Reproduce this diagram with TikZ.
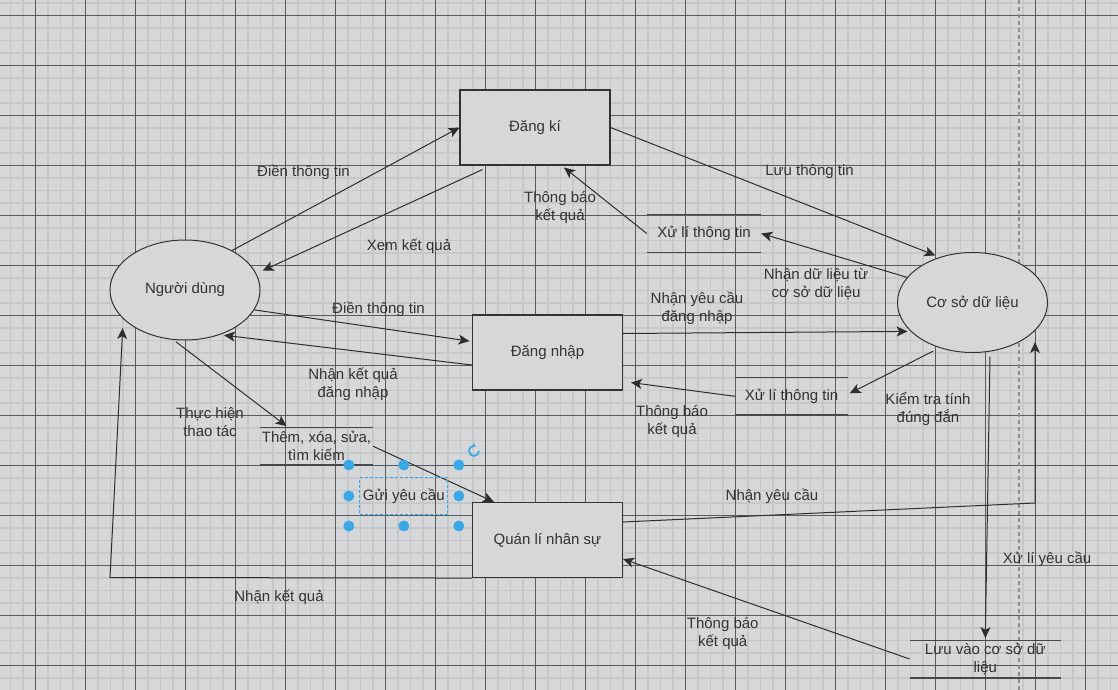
\documentclass[tikz,border=0pt]{standalone}
\usepackage{fontspec}
\setmainfont{Liberation Sans}
\usetikzlibrary{arrows.meta,shapes.geometric}
\definecolor{paper}{HTML}{D6D7D9}
\definecolor{gridminor}{HTML}{C6C7C9}
\definecolor{gridmajor}{HTML}{5A5B5D}
\definecolor{ink}{HTML}{333333}
\definecolor{edge}{HTML}{2E2E2E}
\definecolor{sel}{HTML}{3AA8E6}
\definecolor{guide}{HTML}{8C8C8C}

\begin{document}
\begin{tikzpicture}[x=1pt,y=-1pt,
  font=\fontsize{15}{18}\selectfont, text=ink,
  proc/.style={draw=ink, fill=paper, line width=1.1pt,
    minimum width=150pt, minimum height=75pt, inner sep=0pt},
  ent/.style={ellipse, draw=ink, fill=paper, line width=1pt,
    minimum width=150pt, minimum height=100pt, inner sep=0pt},
  store/.style={minimum height=37pt, inner sep=0pt, align=center},
  storeline/.style={draw=ink!90, line width=1.1pt},
  lbl/.style={align=center, inner sep=0pt},
  flow/.style={draw=edge, line width=1pt,
    -{Stealth[length=11pt,width=10pt,inset=2.8pt]}},
  pick/.style={draw=sel, line width=1pt, dash pattern=on 3pt off 2pt,
    minimum width=88pt, minimum height=37pt, inner sep=0pt}
]
% page and grid
\fill[paper] (0,0) rectangle (1118,690);
\useasboundingbox (0,0) rectangle (1118,690);
\foreach \i in {0,...,88}
  \draw[gridminor, line width=1.5pt] ({10.5+12.5*\i},0) -- ++(0,690);
\foreach \i in {0,...,54}
  \draw[gridminor, line width=1.5pt] (0,{3+12.5*\i}) -- ++(1118,0);
\foreach \i in {0,...,21}
  \draw[gridmajor, line width=0.9pt] ({35.5+50*\i},0) -- ++(0,690);
\foreach \i in {0,...,13}
  \draw[gridmajor, line width=0.9pt] (0,{15.5+50*\i}) -- ++(1118,0);
\draw[guide, line width=1.2pt, dash pattern=on 4pt off 3pt] (1019,0) -- (1019,690);

% entities and processes
\node[ent]  (user) at (185,290)     {Người dùng};
\node[ent]  (db)   at (972.5,302.5) {Cơ sở dữ liệu};
\node[proc] (dk)   at (535,127.5)   {Đăng kí};
\node[proc] (dn)   at (547.5,352.5) {Đăng nhập};
\node[proc] (qlns) at (547.5,540)   {Quán lí nhân sự};

% data stores
\node[store, minimum width=114pt] (xl1)  at (704,233.5)   {Xử lí thông tin};
\node[store, minimum width=113pt] (xl2)  at (791.5,396.3) {Xử lí thông tin};
\node[store, minimum width=113pt] (them) at (316.5,446.3) {Thêm, xóa, sửa,\\tìm kiếm};
\node[store, minimum width=151pt, minimum height=37.5pt] (luu) at (985.3,659) {Lưu vào cơ sở dữ\\liệu};
\foreach \s in {xl1,xl2,them,luu}
  \draw[storeline] (\s.north west) -- (\s.north east) (\s.south west) -- (\s.south east);

% flows
\draw[flow] (user.40) -- (dk.west);
\draw[flow, shorten >=7pt] ([xshift=23pt,yshift=-4pt]dk.south west) -- (user.13);
\draw[flow, shorten >=4.5pt] (dk.east) -- (db.126);
\draw[flow] (db.159) -- (xl1.east);
\draw[flow] (xl1.west) -- ([xshift=29pt,yshift=-2pt]dk.south);
\draw[flow, shorten >=2.5pt] (user.-16) -- ([yshift=11pt]dn.west);
\draw[flow, shorten >=4pt] ([yshift=-12.5pt]dn.west) -- (user.-52);
\draw[flow, shorten >=3pt] ([yshift=19pt]dn.east) -- (db.205);
\draw[flow, shorten <=7pt] (db.234) -- ([xshift=1.5pt,yshift=3pt]xl2.east);
\draw[flow, shorten >=8pt] (xl2.west) -- ([yshift=-29pt]dn.east);
\draw[flow, shorten <=3pt] (user.257) -- ([xshift=-30pt,yshift=1.5pt]them.north);
\draw[flow] (them.east) -- ([xshift=22pt]qlns.north west);
\coordinate (bendA) at (1035,503);
\draw[flow] ([yshift=18pt]qlns.east) -- (bendA) -- ([yshift=11pt]bendA |- db.south);
\draw[flow] ([xshift=17.5pt,yshift=-3.5pt]db.south) -- ([yshift=2pt]luu.north);
\draw[flow] (luu.west) -- ([yshift=-19pt]qlns.east);
\coordinate (bendB) at (110,577.5);
\draw[flow] (qlns.south west) -- (bendB) -- ([xshift=-62.3pt,yshift=-38pt]user.center);

% flow labels
\node[lbl] (l1)  at (303.5,172)  {Điền thông tin};
\node[lbl] (l2)  at (409,246)    {Xem kết quả};
\node[lbl] (l3)  at (809.5,172)  {Lưu thông tin};
\node[lbl] (l4)  at (560,208)    {Thông báo\\kết quả};
\node[lbl] (l5)  at (816,284)    {Nhận dữ liệu từ\\cơ sở dữ liệu};
\node[lbl] (l6)  at (697,308.7)  {Nhận yêu cầu\\đăng nhập};
\node[lbl] (l7)  at (378.5,309)  {Điền thông tin};
\node[lbl] (l8)  at (353,384)    {Nhận kết quả\\đăng nhập};
\node[lbl] (l9)  at (928,409)    {Kiểm tra tính\\đúng đắn};
\node[lbl] (l10) at (672,422)    {Thông báo\\kết quả};
\node[lbl] (l11) at (210,422)    {Thực hiện\\thao tác};
\node[lbl] (l12) at (772,496.7)  {Nhận yêu cầu};
\node[lbl] (l13) at (1047,559)   {Xử lí yêu cầu};
\node[lbl] (l14) at (722.7,634)  {Thông báo\\kết quả};
\node[lbl] (l15) at (279,597)    {Nhận kết quả};

% selected label with its handles
\node[pick] (gui) at (403.8,496) {Gửi yêu cầu};
\foreach \dx/\dy in {-55/-31,0/-31,55/-31,-55/0,55/0,-55/30,0/30,55/30}
  \fill[sel] ([xshift=\dx pt,yshift=-\dy pt]gui.center) circle (5.5pt);
\draw[sel, line width=1.7pt, -{Stealth[length=3.5pt,width=5pt]}]
  (479,451) arc[start angle=0, end angle=290, radius=5];
\end{tikzpicture}
\end{document}
